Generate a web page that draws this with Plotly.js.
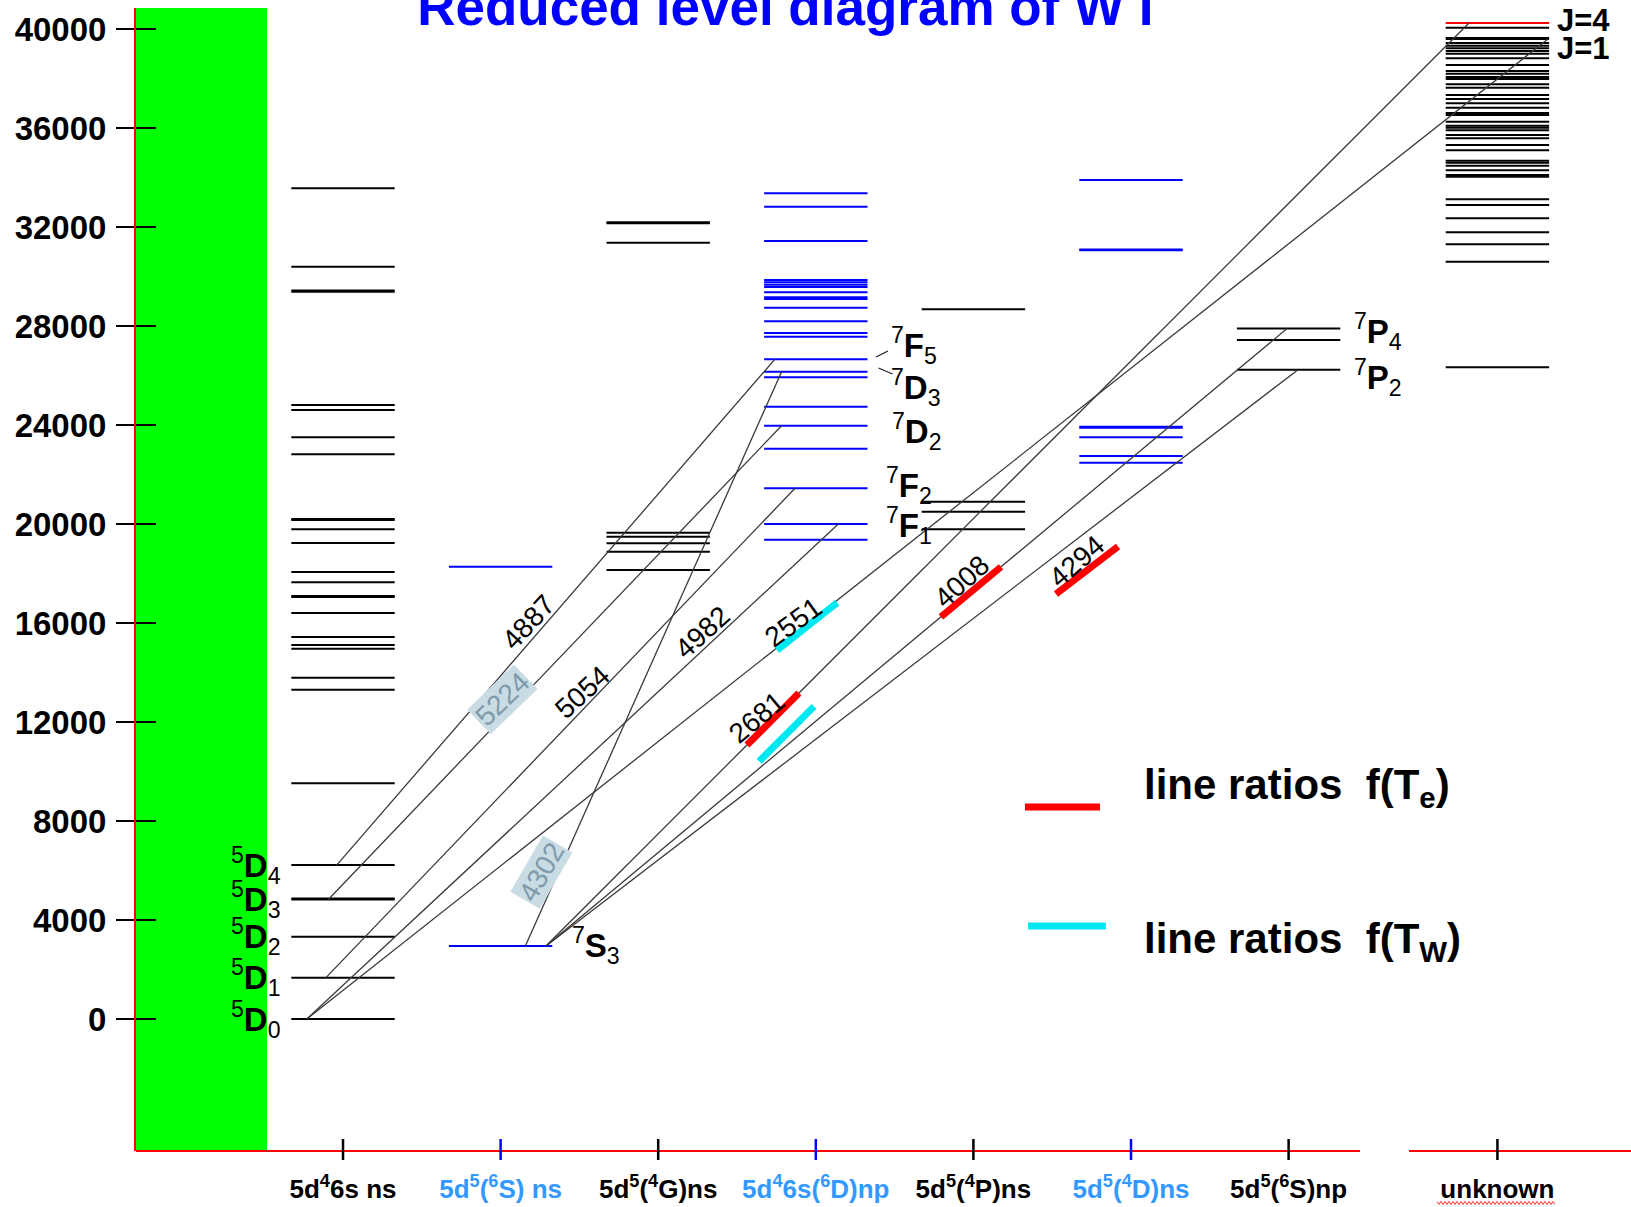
<!DOCTYPE html>
<html>
<head>
<meta charset="utf-8">
<script src="https://cdn.plot.ly/plotly-3.0.1.min.js"></script>
<style>
  html, body { margin: 0; padding: 0; background: #ffffff; }
  #chart { width: 1631px; height: 1207px; }
</style>
</head>
<body>
<div id="chart"></div>
<script>
// ---------------------------------------------------------------
// Energy levels of neutral tungsten (cm^-1), grouped by configuration
// ---------------------------------------------------------------
const configLabels = [
  '5d<sup>4</sup>6s ns',
  '5d<sup>5</sup>(<sup>6</sup>S) ns',
  '5d<sup>5</sup>(<sup>4</sup>G)ns',
  '5d<sup>4</sup>6s(<sup>6</sup>D)np',
  '5d<sup>5</sup>(<sup>4</sup>P)ns',
  '5d<sup>5</sup>(<sup>4</sup>D)ns',
  '5d<sup>5</sup>(<sup>6</sup>S)np',
  'unknown'
];

const levels5d46sNs = [0, 1670, 3326, 4830, 4870, 6219, 9528, 13300, 13790, 14960, 15111,
  15434, 16404, 17050, 17090, 17643, 18060, 19232, 19785, 20162, 20200, 22816, 23503,
  24606, 24808, 29386, 29430, 30396, 33564];
const levels5d5_6S_ns = [2951, 18275];
const levels5d5_4G_ns = [18141, 18881, 19219, 19487, 19649, 31366, 32148, 32190];
const levels5d46s_6D_np = [19366, 20000, 21442, 23042, 23972, 24739, 25927, 26150, 26660,
  27567, 27717, 28189, 28739, 29091, 29159, 29361, 29576, 29669, 29764, 29859, 31434,
  32821, 33360];
const levels5d5_4P_ns = [19785, 20497, 20901, 28674];
const levels5d5_4D_ns = [22477, 22747, 23503, 23891, 23930, 31057, 31095, 33899];
const levels5d5_6S_np = [26236, 27434, 27896];
const levelsUnknown = [26331, 30598, 31300, 31785, 32350, 32888, 33118, 34032, 34100,
  34289, 34475, 34596, 34676, 35096, 35310, 35581, 35716, 35905, 36012, 36093, 36254,
  36525, 36606, 36819, 36996, 37171, 37333, 37628, 37763, 37979, 38060, 38193, 38302,
  38545, 38813, 39003, 39111, 39219, 39325, 39434, 39596, 39636, 40053];
const levelsUnknownJ4 = [40245];

// Observed transitions: wavelength (Angstrom), lower and upper level (cm^-1)
const trWavelength = [4887, 5224, 5054, 4982, 4302, 2551, 2681, 4008, 4294];
const trLower      = [6219, 4830, 1670, 0, 2951, 0, 2951, 2951, 2951];
const trUpper      = [26660, 23972, 21442, 20000, 26150, 39596, 40245, 27896, 26236];

// Lines used for line-ratio diagnostics
const ratioLines = [2681, 2681, 2551, 4008, 4294];
const ratioKinds = ['Te', 'TW', 'TW', 'Te', 'Te'];

const yTickValues = [0, 4000, 8000, 12000, 16000, 20000, 24000, 28000, 32000, 36000, 40000];

// ---------------------------------------------------------------
// Layout of the diagram
// ---------------------------------------------------------------
const FONT = 'Liberation Sans, Arial, Helvetica, sans-serif';
const BLACK = '#000000', BLUE = '#0000ff', LIGHTBLUE = '#3399ff';
const X_MIN = -0.3135, X_MAX = 9.1726;
const Y_MIN = -5333, Y_MAX = 40848;

const colPos = [1, 2, 3, 4, 5, 6, 7, 8.325];
const colLevelColor = [BLACK, BLUE, BLACK, BLUE, BLACK, BLUE, BLACK, BLACK];
const colTickColor  = [BLACK, BLUE, BLACK, BLUE, BLACK, BLUE, BLACK, BLACK];
const colLabelColor = [BLACK, LIGHTBLUE, BLACK, LIGHTBLUE, BLACK, LIGHTBLUE, BLACK, BLACK];
const HALF = 0.328;

const allLevels = [levels5d46sNs, levels5d5_6S_ns, levels5d5_4G_ns, levels5d46s_6D_np,
  levels5d5_4P_ns, levels5d5_4D_ns, levels5d5_6S_np, levelsUnknown];

// where each transition leaves / reaches its column (column index, offset from centre)
const trFrom = [[0, -0.04], [0, -0.093], [0, -0.108], [0, -0.23], [1, 0.157], [0, -0.23], [1, 0.288], [1, 0.288], [1, 0.288]];
const trTo   = [[3, -0.259], [3, -0.217], [3, -0.132], [3, 0.143], [3, -0.217], [7, 0.321], [7, -0.18], [6, -0.01], [6, 0.06]];

const traces = [];

// level bars
allLevels.forEach((lv, i) => {
  const xs = [], ys = [];
  lv.forEach(e => { xs.push(colPos[i] - HALF, colPos[i] + HALF, null); ys.push(e, e, null); });
  traces.push({
    type: 'scatter', mode: 'lines', x: xs, y: ys,
    line: { color: colLevelColor[i], width: 2 },
    hoverinfo: 'skip', showlegend: false
  });
});
(() => {
  const xs = [], ys = [];
  levelsUnknownJ4.forEach(e => { xs.push(colPos[7] - HALF, colPos[7] + HALF, null); ys.push(e, e, null); });
  traces.push({ type: 'scatter', mode: 'lines', x: xs, y: ys,
    line: { color: '#ff0000', width: 2 }, hoverinfo: 'skip', showlegend: false });
})();

// transition lines
const trX = i => [colPos[trFrom[i][0]] + trFrom[i][1], colPos[trTo[i][0]] + trTo[i][1]];
(() => {
  const xs = [], ys = [];
  trWavelength.forEach((w, i) => {
    const [xa, xb] = trX(i);
    xs.push(xa, xb, null); ys.push(trLower[i], trUpper[i], null);
  });
  traces.push({ type: 'scatter', mode: 'lines', x: xs, y: ys,
    line: { color: '#3a3a3a', width: 1.3 }, hoverinfo: 'skip', showlegend: false });
})();

// line-ratio markers drawn along their transition
const ratioPlace = [
  { x0: 3.563, x1: 3.893, dE: 0 },
  { x0: 3.640, x1: 3.989, dE: -1150 },
  { x0: 3.754, x1: 4.135, dE: -100 },
  { x0: 4.794, x1: 5.175, dE: 0 },
  { x0: 5.524, x1: 5.918, dE: -1570 }
];
ratioLines.forEach((w, k) => {
  const i = trWavelength.indexOf(w);
  const [xa, xb] = trX(i);
  const eAt = x => trLower[i] + (trUpper[i] - trLower[i]) * (x - xa) / (xb - xa);
  const p = ratioPlace[k];
  traces.push({ type: 'scatter', mode: 'lines',
    x: [p.x0, p.x1], y: [eAt(p.x0) + p.dE, eAt(p.x1) + p.dE],
    line: { color: ratioKinds[k] === 'Te' ? '#ff0000' : '#00e8f0', width: 7 },
    hoverinfo: 'skip', showlegend: false });
});

// carrier for the inner tick marks of the energy axis
traces.push({ type: 'scatter', mode: 'markers', x: [X_MIN], y: [Y_MIN], yaxis: 'y2',
  marker: { opacity: 0 }, hoverinfo: 'skip', showlegend: false });

// ---------------------------------------------------------------
// Shapes
// ---------------------------------------------------------------
const shapes = [];
// green band on the left
shapes.push({ type: 'rect', xref: 'x', yref: 'paper', x0: X_MIN, x1: 0.5178, y0: 0, y1: 1,
  fillcolor: '#00ff00', line: { width: 0 }, layer: 'below' });
// broken red baseline
shapes.push({ type: 'line', xref: 'x', yref: 'paper', x0: X_MIN, x1: 7.453, y0: 0, y1: 0,
  line: { color: '#ff0000', width: 2 } });
shapes.push({ type: 'line', xref: 'x', yref: 'paper', x0: 7.764, x1: X_MAX, y0: 0, y1: 0,
  line: { color: '#ff0000', width: 2 } });
// configuration tick marks across the baseline
colPos.forEach((c, i) => {
  shapes.push({ type: 'line', xref: 'x', yref: 'paper', ysizemode: 'pixel', yanchor: 0,
    x0: c, x1: c, y0: -9, y1: 12, line: { color: colTickColor[i], width: 2.5 } });
});
// leader lines for the crowded terms
shapes.push({ type: 'line', xref: 'x', yref: 'y', x0: 4.382, x1: 4.458, y0: 26747, y1: 26990,
  line: { color: '#222', width: 1.3 } });
shapes.push({ type: 'line', xref: 'x', yref: 'y', x0: 4.398, x1: 4.487, y0: 26303, y1: 26061,
  line: { color: '#222', width: 1.3 } });
// key swatches
shapes.push({ type: 'line', xref: 'paper', yref: 'paper', x0: 0.5946, x1: 0.6448, y0: 0.3010, y1: 0.3010,
  line: { color: '#ff0000', width: 7 } });
shapes.push({ type: 'line', xref: 'paper', yref: 'paper', x0: 0.5967, x1: 0.6488, y0: 0.1969, y1: 0.1969,
  line: { color: '#00e8f0', width: 7 } });
// red spell-check squiggle under "unknown"
(() => {
  const px0 = 1437, px1 = 1555, py = 1203;
  let d = '';
  for (let px = px0, k = 0; px <= px1; px += 2, k++) {
    const xp = (px - 136) / 1495;
    const yp = (1151 - (py + (k % 2 ? 1.5 : -1.5))) / 1143;
    d += (k === 0 ? 'M' : 'L') + xp.toFixed(5) + ',' + yp.toFixed(5);
  }
  shapes.push({ type: 'path', xref: 'paper', yref: 'paper', path: d,
    line: { color: '#ff3030', width: 1 } });
})();

// ---------------------------------------------------------------
// Annotations
// ---------------------------------------------------------------
const annotations = [];
const term = (sup, L, sub) => '<sup>' + sup + '</sup><b>' + L + '</b><sub>' + sub + '</sub>';
function label(text, x, y, xanchor, size) {
  annotations.push({ text, x, y, xref: 'x', yref: 'y', xanchor, yanchor: 'middle',
    showarrow: false, font: { family: FONT, size: size || 33, color: '#000' } });
}
// ground multiplet
label(term(5, 'D', 4), 0.62, 6219, 'right');
label(term(5, 'D', 3), 0.62, 4830, 'right');
label(term(5, 'D', 2), 0.62, 3326, 'right');
label(term(5, 'D', 1), 0.62, 1670, 'right');
label(term(5, 'D', 0), 0.62, 0, 'right');
label(term(7, 'S', 3), 2.44, 2951, 'left');
label(term(7, 'F', 5), 4.465, 27232, 'left');
label(term(7, 'D', 3), 4.465, 25495, 'left');
label(term(7, 'D', 2), 4.472, 23729, 'left');
label(term(7, 'F', 2), 4.432, 21547, 'left');
label(term(7, 'F', 1), 4.432, 19931, 'left');
label(term(7, 'P', 4), 7.405, 27797, 'left');
label(term(7, 'P', 2), 7.405, 25915, 'left');
annotations.push({ text: '<b>J=4</b>', x: 8.69, y: 40323, xref: 'x', yref: 'y', xanchor: 'left',
  yanchor: 'middle', showarrow: false, font: { family: FONT, size: 31, color: '#000' } });
annotations.push({ text: '<b>J=1</b>', x: 8.69, y: 39232, xref: 'x', yref: 'y', xanchor: 'left',
  yanchor: 'middle', showarrow: false, font: { family: FONT, size: 31, color: '#000' } });

// wavelength labels along the transitions
const wlPlace = {
  4887: { x: 2.174, y: 16040, a: -47 },
  5224: { x: 2.009, y: 12929, a: -44, hi: true },
  5054: { x: 2.516, y: 13212, a: -42 },
  4982: { x: 3.278, y: 15636, a: -42 },
  4302: { x: 2.256, y: 5939, a: -60, hi: true },
  2551: { x: 3.855, y: 16040, a: -36 },
  2681: { x: 3.627, y: 12162, a: -40 },
  4008: { x: 4.928, y: 17657, a: -42 },
  4294: { x: 5.657, y: 18465, a: -41 }
};
trWavelength.forEach(w => {
  const p = wlPlace[w];
  annotations.push({ text: String(w), x: p.x, y: p.y, xref: 'x', yref: 'y', textangle: p.a,
    showarrow: false, xanchor: 'center', yanchor: 'middle',
    bgcolor: p.hi ? '#c9dce4' : 'rgba(0,0,0,0)', borderpad: 1,
    font: { family: FONT, size: 28, color: p.hi ? '#7f9aab' : '#000' } });
});

// key
annotations.push({ text: '<b>line ratios  f(T<sub>e</sub>)</b>', xref: 'paper', yref: 'paper',
  x: 0.6729, y: 0.3180, xanchor: 'left', yanchor: 'middle', showarrow: false,
  font: { family: FONT, size: 42, color: '#000' } });
annotations.push({ text: '<b>line ratios  f(T<sub>W</sub>)</b>', xref: 'paper', yref: 'paper',
  x: 0.6729, y: 0.1830, xanchor: 'left', yanchor: 'middle', showarrow: false,
  font: { family: FONT, size: 42, color: '#000' } });

// ---------------------------------------------------------------
const layout = {
  width: 1631, height: 1207,
  margin: { l: 136, r: 0, t: 8, b: 56 },
  paper_bgcolor: '#ffffff', plot_bgcolor: '#ffffff',
  showlegend: false,
  title: {
    text: '<b>Reduced level diagram of W I</b>',
    font: { family: FONT, size: 53, color: '#0000ff' },
    xref: 'container', yref: 'container', x: 0.4815, xanchor: 'center', y: 0.995, yanchor: 'middle'
  },
  xaxis: {
    range: [X_MIN, X_MAX], showgrid: false, zeroline: false, showline: false, ticks: '',
    tickvals: colPos,
    ticktext: configLabels.map((t, i) => '<span style="color:' + colLabelColor[i] + '">' + t + '</span>'),
    tickfont: { family: FONT, size: 26, color: '#000', weight: 'bold' },
    ticklabelstandoff: 20, fixedrange: true
  },
  yaxis: {
    range: [Y_MIN, Y_MAX], showgrid: false, zeroline: false,
    showline: true, linecolor: '#ff0000', linewidth: 2,
    ticks: 'outside', ticklen: 18, tickwidth: 2, tickcolor: '#000',
    tickvals: yTickValues, ticktext: yTickValues.map(String),
    tickfont: { family: FONT, size: 33, color: '#000', weight: 'bold' },
    ticklabelstandoff: 3, fixedrange: true
  },
  yaxis2: {
    overlaying: 'y', side: 'left', range: [Y_MIN, Y_MAX], showgrid: false, zeroline: false,
    showline: false, ticks: 'inside', ticklen: 20, tickwidth: 2, tickcolor: '#000',
    tickvals: yTickValues, showticklabels: false, fixedrange: true
  },
  shapes, annotations
};

Plotly.newPlot('chart', traces, layout, { staticPlot: true, displayModeBar: false });
</script>
</body>
</html>
